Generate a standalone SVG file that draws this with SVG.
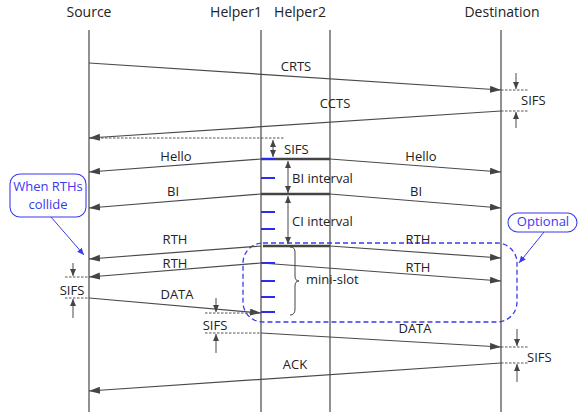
<svg xmlns="http://www.w3.org/2000/svg" width="578" height="417" viewBox="0 0 578 417">
<style>
text{font-family:"Open Sans","Liberation Sans",sans-serif;fill:#222;}
.hd{font-size:14px;text-anchor:middle;}
.lb{font-size:13px;}
.c{text-anchor:middle;}
.life{stroke:#555;stroke-width:1.3;fill:none;}
.msg{stroke:#4a4a4a;stroke-width:1.2;fill:none;marker-end:url(#ah);}
.dash{stroke:#555;stroke-width:1;stroke-dasharray:2.5,1.5;fill:none;}
.sa{stroke:#4a4a4a;stroke-width:1;fill:none;marker-end:url(#sh);}
.da{stroke:#4a4a4a;stroke-width:1;fill:none;marker-start:url(#shs);marker-end:url(#sh);}
.bar{stroke:#444;stroke-width:2.6;}
.tick{stroke:#2b2bf0;stroke-width:2;}
.blue{fill:#3a3af0;}
.call{fill:#fff;stroke:#3a3af0;stroke-width:1.1;}
</style>
<defs>
<marker id="ah" markerUnits="userSpaceOnUse" markerWidth="12" markerHeight="8" refX="11" refY="3.5" orient="auto"><path d="M0,0 L11,3.5 L0,7 z" fill="#444"/></marker>
<marker id="sh" markerUnits="userSpaceOnUse" markerWidth="8" markerHeight="6" refX="7" refY="3" orient="auto"><path d="M0,0 L7,3 L0,6 z" fill="#444"/></marker>
<marker id="shs" markerUnits="userSpaceOnUse" markerWidth="8" markerHeight="6" refX="0" refY="3" orient="auto"><path d="M7,0 L0,3 L7,6 z" fill="#444"/></marker>
<marker id="bh" markerUnits="userSpaceOnUse" markerWidth="8" markerHeight="6" refX="7" refY="3" orient="auto"><path d="M0,0 L7,3 L0,6 z" fill="#3a3af0"/></marker>
</defs>

<g id="source"><text class="hd" x="89" y="17">Source</text><line class="life" x1="89" y1="30" x2="89" y2="412"/></g>
<g id="helper1"><text class="hd" x="236" y="17">Helper1</text><line class="life" x1="261" y1="30" x2="261" y2="412"/></g>
<g id="helper2"><text class="hd" x="300" y="17">Helper2</text><line class="life" x1="330" y1="30" x2="330" y2="412"/></g>
<g id="destination"><text class="hd" x="502" y="17">Destination</text><line class="life" x1="501" y1="30" x2="501" y2="412"/></g>

<g id="optional-region">
<rect x="243" y="243" width="274" height="79" rx="20" fill="none" stroke="#3a3af0" stroke-width="1.3" stroke-dasharray="5,3"/>
</g>

<g id="helper1-bars">
<line class="bar" x1="261" y1="159" x2="330" y2="159"/>
<line class="bar" x1="261" y1="194" x2="330" y2="194"/>
<line class="bar" x1="263" y1="246" x2="330" y2="246"/>
<line class="tick" x1="261" y1="159" x2="275" y2="159"/>
<line class="tick" x1="261" y1="178" x2="275" y2="178"/>
<line class="tick" x1="261" y1="212" x2="275" y2="212"/>
<line class="tick" x1="261" y1="229" x2="275" y2="229"/>
<line class="tick" x1="261" y1="263" x2="275" y2="263"/>
<line class="tick" x1="261" y1="281" x2="275" y2="281"/>
<line class="tick" x1="261" y1="297" x2="275" y2="297"/>
<line class="tick" x1="261" y1="312" x2="275" y2="312"/>
</g>

<g id="connectors">
<line class="msg" x1="89" y1="63" x2="501" y2="90"/>
<line class="msg" x1="501" y1="111" x2="89" y2="138"/>
<line class="msg" x1="261" y1="159" x2="89" y2="172"/>
<line class="msg" x1="330" y1="159" x2="501" y2="172"/>
<line class="msg" x1="261" y1="194" x2="89" y2="208"/>
<line class="msg" x1="330" y1="194" x2="501" y2="208"/>
<line class="msg" x1="261" y1="246" x2="89" y2="259"/>
<line class="msg" x1="330" y1="246" x2="501" y2="258"/>
<line class="msg" x1="261" y1="263" x2="89" y2="277"/>
<line class="msg" x1="261" y1="263" x2="501" y2="281"/>
<line class="msg" x1="89" y1="298" x2="261" y2="313"/>
<line class="msg" x1="261" y1="333" x2="501" y2="347"/>
<line class="msg" x1="501" y1="363" x2="89" y2="391"/>

<line class="dash" x1="89" y1="138" x2="285" y2="138"/>
<line class="dash" x1="501" y1="90" x2="528" y2="90"/>
<line class="dash" x1="501" y1="111" x2="528" y2="111"/>
<line class="sa" x1="516" y1="73" x2="516" y2="89"/>
<line class="sa" x1="516" y1="128" x2="516" y2="112"/>

<line class="da" x1="273" y1="140" x2="273" y2="157"/>
<line class="da" x1="288" y1="161" x2="288" y2="193"/>
<line class="da" x1="288" y1="196" x2="288" y2="244"/>

<line class="dash" x1="65" y1="277" x2="89" y2="277"/>
<line class="dash" x1="65" y1="298" x2="89" y2="298"/>
<line class="sa" x1="73" y1="263" x2="73" y2="276"/>
<line class="sa" x1="73" y1="318" x2="73" y2="299"/>

<line class="dash" x1="205" y1="313" x2="261" y2="313"/>
<line class="dash" x1="205" y1="333" x2="261" y2="333"/>
<line class="sa" x1="216" y1="298" x2="216" y2="312"/>
<line class="sa" x1="216" y1="353" x2="216" y2="334"/>

<line class="dash" x1="501" y1="347" x2="528" y2="347"/>
<line class="dash" x1="501" y1="363" x2="528" y2="363"/>
<line class="sa" x1="517" y1="329" x2="517" y2="346"/>
<line class="sa" x1="517" y1="382" x2="517" y2="364"/>

<path d="M290,247 Q295,247 295,252 L295,276 Q295,281 299,281 Q295,281 295,286 L295,309 Q295,315 290,315" fill="none" stroke="#444" stroke-width="1"/>

<line x1="51" y1="217" x2="84" y2="255" stroke="#3a3af0" stroke-width="1" marker-end="url(#bh)"/>
<line x1="544" y1="232" x2="519" y2="263" stroke="#3a3af0" stroke-width="1" marker-end="url(#bh)"/>
</g>

<g id="labels">
<text class="lb c" x="296" y="71">CRTS</text>
<text class="lb" x="521" y="105">SIFS</text>
<text class="lb c" x="335" y="108">CCTS</text>
<text class="lb" x="284" y="154">SIFS</text>
<text class="lb c" x="176" y="161">Hello</text>
<text class="lb c" x="421" y="161">Hello</text>
<text class="lb" x="292" y="183">BI interval</text>
<text class="lb c" x="173" y="196">BI</text>
<text class="lb c" x="416" y="196">BI</text>
<text class="lb" x="292" y="226">CI interval</text>
<text class="lb c" x="175" y="244">RTH</text>
<text class="lb c" x="418" y="244">RTH</text>
<text class="lb c" x="175" y="268">RTH</text>
<text class="lb c" x="418" y="272">RTH</text>
<text class="lb" x="306" y="284">mini-slot</text>
<text class="lb c" x="72" y="295">SIFS</text>
<text class="lb c" x="177" y="299">DATA</text>
<text class="lb c" x="215" y="330">SIFS</text>
<text class="lb c" x="415" y="333">DATA</text>
<text class="lb" x="527" y="362">SIFS</text>
<text class="lb c" x="295" y="369">ACK</text>
</g>

<g id="callout-collide">
<rect class="call" x="10" y="174" width="76" height="43" rx="10"/>
<text class="lb c blue" x="48" y="191">When RTHs</text>
<text class="lb c blue" x="48" y="209">collide</text>
</g>
<g id="callout-optional">
<rect class="call" x="508" y="213" width="69" height="19" rx="9.5"/>
<text class="lb c blue" x="543" y="226">Optional</text>
</g>
</svg>
